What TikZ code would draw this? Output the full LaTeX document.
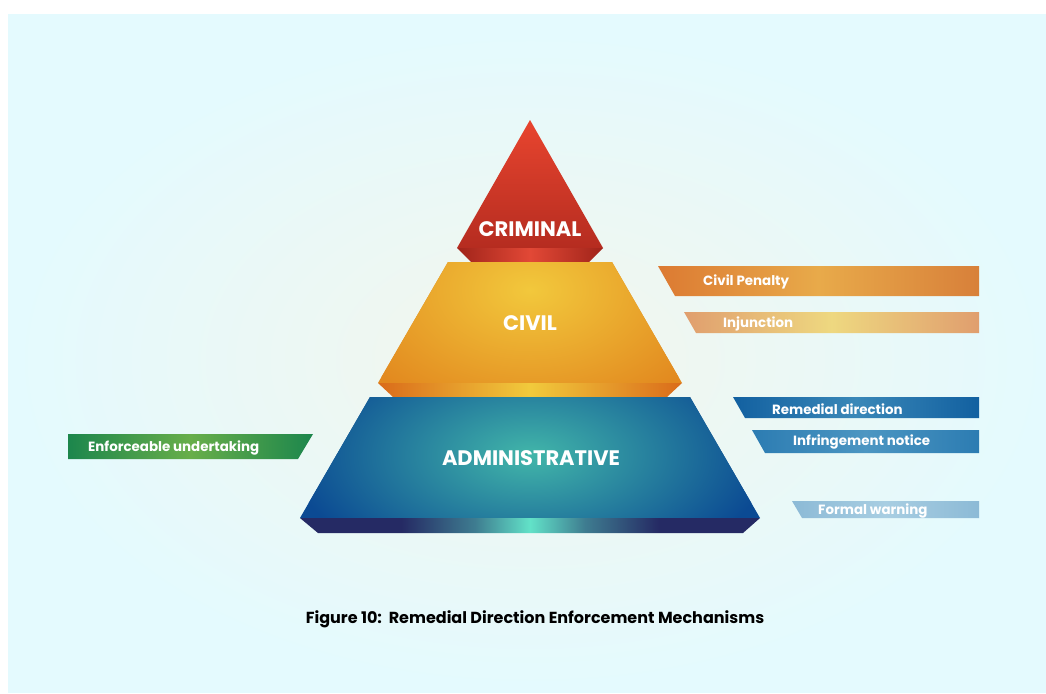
\documentclass[tikz,border=0pt]{standalone}
\usepackage{fontspec}
\setmainfont{Poppins}
\definecolor{admBandE}{HTML}{252A64}
\definecolor{admBandM}{HTML}{3E7C90}
\definecolor{admBandC}{HTML}{62E2C8}
\pgfdeclarehorizontalshading{admbandsh}{100bp}{color(0bp)=(admBandE); color(36bp)=(admBandE); color(44bp)=(admBandM); color(50bp)=(admBandC); color(56bp)=(admBandM); color(64bp)=(admBandE); color(100bp)=(admBandE)}
\begin{document}
\begin{tikzpicture}[x=1pt,y=-1pt,
  lvl/.style={font=\fontsize{21}{24}\selectfont\bfseries, text=white},
  tag/.style={font=\fontsize{13.4}{15}\selectfont\bfseries, text=white, anchor=west, inner sep=0pt},
  captxt/.style={font=\fontsize{16}{18}\selectfont\bfseries, text=black}
]
\definecolor{bg}{HTML}{E4FAFE}
\definecolor{glow}{HTML}{F3F6EC}
\definecolor{crimA}{HTML}{E8452F}
\definecolor{crimB}{HTML}{B52C20}
\definecolor{crimBandE}{HTML}{A0241A}
\definecolor{crimBandC}{HTML}{E24836}
\definecolor{civO}{HTML}{E2891F}
\definecolor{civY}{HTML}{F2C83C}
\definecolor{civBandE}{HTML}{DA6B1A}
\definecolor{civBandC}{HTML}{F1CA3C}
\definecolor{admB}{HTML}{0B4A93}
\definecolor{admT}{HTML}{42B6A9}
\definecolor{cpE}{HTML}{DC7A32}
\definecolor{cpR}{HTML}{D8803A}
\definecolor{cpM}{HTML}{E8AA4A}
\definecolor{inE}{HTML}{E09E6E}
\definecolor{inM}{HTML}{EED880}
\definecolor{rdE}{HTML}{1260A0}
\definecolor{rdM}{HTML}{3A88B8}
\definecolor{ifE}{HTML}{2C7CB2}
\definecolor{ifM}{HTML}{4C96C2}
\definecolor{fwE}{HTML}{8CBAD6}
\definecolor{fwM}{HTML}{A8CEE2}
\definecolor{euE}{HTML}{1C864C}
\definecolor{euM}{HTML}{68AE4A}
\useasboundingbox (0,0) rectangle (1046,693);
\fill[white] (0,0) rectangle (1046,693);
\fill[bg] (8,14) rectangle (1046,693);
\shade[inner color=glow, outer color=bg] (530,360) ellipse [x radius=520, y radius=330];
% criminal
\shade[top color=crimA, bottom color=crimB] (530,120) -- (603,248) -- (457,248) -- cycle;
\shade[left color=crimBandE, right color=crimBandE, middle color=crimBandC] (457,248) -- (603,248) -- (589,262) -- (471,262) -- cycle;
% civil
\begin{scope}
\clip (448,262) -- (612,262) -- (682,383) -- (378,383) -- cycle;
\fill[civO] (370,255) rectangle (690,390);
\shade[inner color=civY, outer color=civO] (530,290) ellipse [x radius=200, y radius=130];
\end{scope}
\shade[left color=civBandE, right color=civBandE, middle color=civBandC] (378,383) -- (682,383) -- (667,397) -- (393,397) -- cycle;
% administrative
\begin{scope}
\clip (370,397) -- (690,397) -- (760,518) -- (300,518) -- cycle;
\fill[admB] (290,390) rectangle (770,525);
\shade[inner color=admT, outer color=admB] (530,455) ellipse [x radius=240, y radius=125];
\end{scope}
\shade[shading=admbandsh] (300,518) -- (760,518) -- (743,533) -- (318,533) -- cycle;
\node[lvl] (crim) at (530,229) {CRIMINAL};
\node[lvl] (civ) at (530,323) {CIVIL};
\node[lvl] (adm) at (531,458) {ADMINISTRATIVE};
% right tags
\shade[left color=cpE, right color=cpR, middle color=cpM] (658,266) -- (979,266) -- (979,296) -- (675,296) -- cycle;
\node[tag] (cp) at (703,282) {Civil Penalty};
\shade[left color=inE, right color=inE, middle color=inM] (684,312) -- (979,312) -- (979,333) -- (696,333) -- cycle;
\node[tag] (inj) at (723,324) {Injunction};
\shade[left color=rdE, right color=rdE, middle color=rdM] (733,397) -- (979,397) -- (979,418) -- (745,418) -- cycle;
\node[tag] (rd) at (772,409) {Remedial direction};
\shade[left color=ifE, right color=ifE, middle color=ifM] (752,430) -- (979,430) -- (979,453) -- (765,453) -- cycle;
\node[tag] (inf) at (793,442) {Infringement notice};
\shade[left color=fwE, right color=fwE, middle color=fwM] (792,501) -- (979,501) -- (979,518) -- (802,518) -- cycle;
\node[tag] (fw) at (818,511) {Formal warning};
% left tag
\shade[left color=euE, right color=euE, middle color=euM] (68,434) -- (313,434) -- (298,459) -- (68,459) -- cycle;
\node[tag] (eu) at (88,448) {Enforceable undertaking};
\node[captxt] (caption) at (535,619) {Figure 10:\ \ Remedial Direction Enforcement Mechanisms};
\end{tikzpicture}
\end{document}
